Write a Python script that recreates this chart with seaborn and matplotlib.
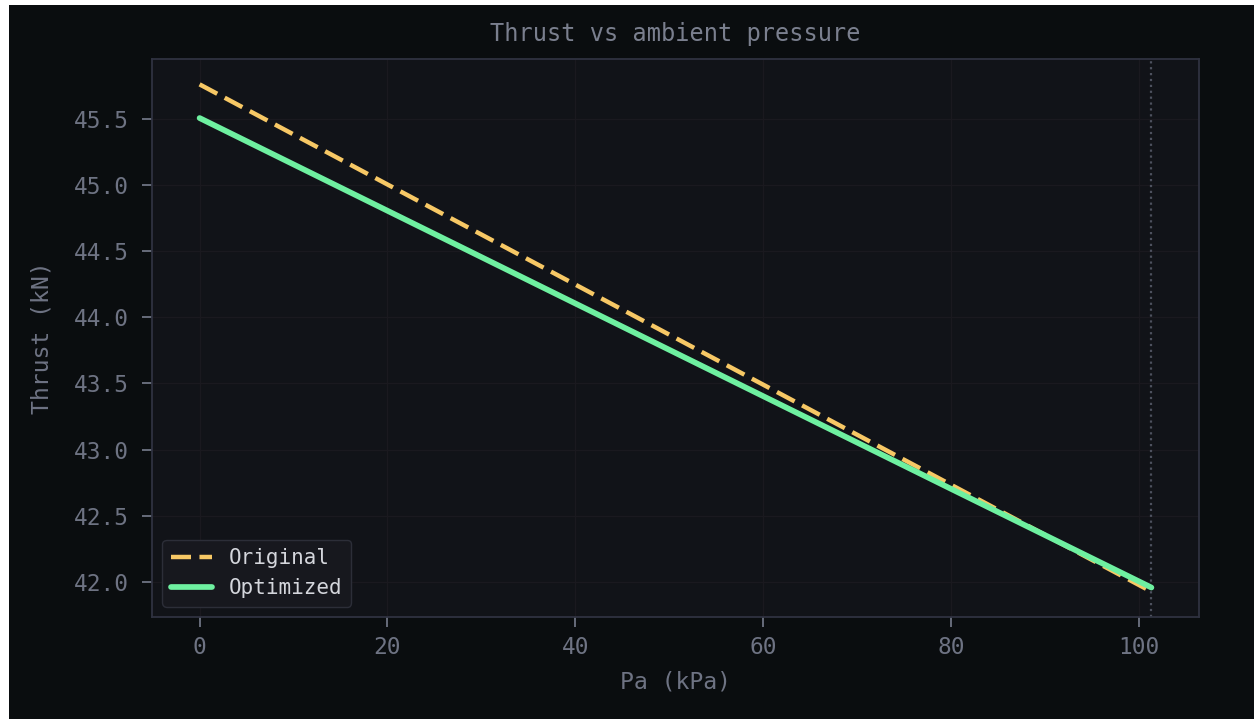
import matplotlib
matplotlib.use("Agg")
import matplotlib.pyplot as plt
import matplotlib.patches as mpatches
import seaborn as sns
import pandas as pd

# Data
pa_kpa = [0, 20, 40, 60, 80, 101.325]
thrust_original = [45.765, 45.007, 44.249, 43.491, 42.733, 41.924]
thrust_optimized = [45.510, 44.808, 44.106, 43.404, 42.702, 41.955]
series_names = ["Original", "Optimized"]
sea_level_kpa = 101.325

FIG_BG = "#0a0d0f"
AX_BG = "#111318"
SPINE = "#2f3240"
TEXT = "#6e7383"
GRID = "#1a191f"

sns.set_theme(style="dark")
plt.rcParams["font.family"] = ["DejaVu Sans Mono", "DejaVu Sans"]

fig = plt.figure(figsize=(12.54, 7.19), dpi=100, facecolor="white")
# dark canvas (screenshot has a thin light border on left/top)
fig.patches.append(mpatches.Rectangle((9 / 1254, 0), 1 - 9 / 1254, 714 / 719,
                                      transform=fig.transFigure, facecolor=FIG_BG,
                                      edgecolor="none", zorder=-10))
ax = fig.add_axes([152 / 1254, 1 - 617 / 719, (1199 - 152) / 1254, (617 - 59) / 719])
ax.set_facecolor(AX_BG)

df_o = pd.DataFrame({"pa": pa_kpa, "thrust": thrust_original})
df_n = pd.DataFrame({"pa": pa_kpa, "thrust": thrust_optimized})

sns.lineplot(data=df_o, x="pa", y="thrust", ax=ax, color="#f7c865", lw=3.2,
             label=series_names[0])
line_o = ax.lines[-1]
line_o.set_linestyle("--")
line_o.set_dashes((4.5, 1.9))
sns.lineplot(data=df_n, x="pa", y="thrust", ax=ax, color="#6ef0a0", lw=4.1,
             label=series_names[1])

ax.axvline(sea_level_kpa, color="#4d515e", ls=":", lw=1.6, zorder=1)

ax.grid(True, color=GRID, lw=0.9)
ax.set_axisbelow(True)
for s in ax.spines.values():
    s.set_visible(True)
    s.set_color(SPINE)
    s.set_linewidth(1.3)

ax.set_xticks([0, 20, 40, 60, 80, 100])
ax.set_yticks([42.0, 42.5, 43.0, 43.5, 44.0, 44.5, 45.0, 45.5])
ax.set_yticklabels([f"{v:.1f}" for v in ax.get_yticks()])
ax.tick_params(axis="both", colors=TEXT, labelsize=16.4, length=7, width=1.3,
               direction="out", bottom=True, left=True)
ax.tick_params(axis="x", pad=7)
ax.tick_params(axis="y", pad=9.5)

ax.set_xlabel("Pa (kPa)", color=TEXT, fontsize=16.7, labelpad=8)
ax.set_ylabel("Thrust (kN)", color=TEXT, fontsize=16.7, labelpad=15)
ax.set_title("Thrust vs ambient pressure", color="#7a7f8e", fontsize=17, pad=13)

leg = ax.legend(loc="lower left", fontsize=15, facecolor="#17181e",
                edgecolor="#2c2e38", framealpha=1.0, fancybox=True)
for t in leg.get_texts():
    t.set_color("#d4d6dc")

fig.savefig("out.png", dpi=100, facecolor=fig.get_facecolor())
